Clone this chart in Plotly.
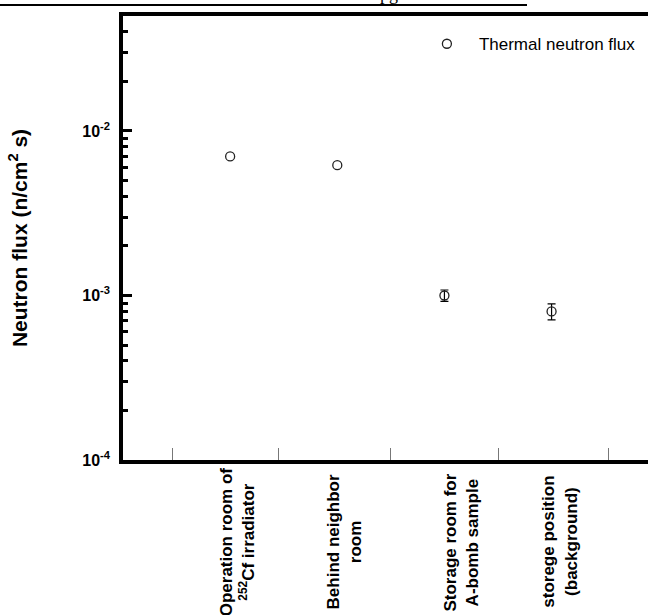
import plotly.graph_objects as go

# ---- data ----
categories = [
    "<b>Operation room of<br><sup>252</sup>Cf irradiator</b>",
    "<b>Behind neighbor<br>room</b>",
    "<b>Storage room for<br>A-bomb sample</b>",
    "<b>storege position<br>(background)</b>",
]
cat_pos = [1, 2, 3, 4]
flux = [7.0e-3, 6.2e-3, 1.0e-3, 8.0e-4]
flux_err = [None, None, 0.08e-3, 0.09e-3]
series_name = "Thermal neutron flux"
ytick_vals = [1e-4, 1e-3, 1e-2]
ytick_text = ["<b>10<sup>-4</sup></b>", "<b>10<sup>-3</sup></b>", "<b>10<sup>-2</sup></b>"]
xsep_ticks = [0.46, 1.45, 2.5, 3.5, 4.53]
label_shift = [7, 7, 17, 8]

FONT = "Liberation Sans, Arial, sans-serif"
marker_style = dict(symbol="circle-open", size=9, color="#222", line=dict(width=1.3, color="#222"))

no_err = [i for i, e in enumerate(flux_err) if e is None]
with_err = [i for i, e in enumerate(flux_err) if e is not None]

fig = go.Figure()
fig.add_trace(go.Scatter(
    x=[cat_pos[i] for i in no_err], y=[flux[i] for i in no_err],
    mode="markers", name=series_name, legendgroup="th",
    marker=marker_style, showlegend=True,
))
fig.add_trace(go.Scatter(
    x=[cat_pos[i] for i in with_err], y=[flux[i] for i in with_err],
    mode="markers", name=series_name, legendgroup="th",
    marker=marker_style, showlegend=False,
    error_y=dict(type="data", array=[flux_err[i] for i in with_err], visible=True,
                 color="black", thickness=1.2, width=4),
))

annotations = []
for pos, lab, sh in zip(cat_pos, categories, label_shift):
    annotations.append(dict(
        x=pos, xref="x", y=-0.185, yref="paper", text=lab, textangle=-90,
        showarrow=False, xanchor="center", yanchor="middle", xshift=sh,
        font=dict(family=FONT, size=17, color="black"), align="center",
    ))
annotations.append(dict(
    x=(389 - 123) / 525, xref="paper", y=(460 + 6) / 444, yref="paper",
    text="pg", showarrow=False, xanchor="center", yanchor="middle",
    font=dict(family="Liberation Serif, serif", size=18, color="black"),
))

fig.update_layout(
    width=648, height=615,
    margin=dict(l=123, r=0, t=16, b=155),
    paper_bgcolor="white", plot_bgcolor="white",
    font=dict(family=FONT, color="black"),
    showlegend=True,
    legend=dict(x=0.556, y=0.977, xanchor="left", yanchor="top",
                bgcolor="rgba(0,0,0,0)", itemwidth=54,
                font=dict(family=FONT, size=17, color="black")),
    annotations=annotations,
    shapes=[dict(type="line", xref="paper", yref="paper",
                 x0=-123 / 525, x1=(527 - 123) / 525,
                 y0=(460 - 5) / 444, y1=(460 - 5) / 444,
                 line=dict(color="black", width=2))],
    xaxis=dict(
        range=[0, 4.9], showgrid=False, zeroline=False,
        showline=True, linecolor="black", linewidth=3.5, mirror=True,
        tickvals=xsep_ticks, ticks="inside", ticklen=12, tickwidth=1,
        tickcolor="#777", showticklabels=False,
    ),
    yaxis=dict(
        type="log", range=[-4, -1.30103], showgrid=False, zeroline=False,
        showline=True, linecolor="black", linewidth=3.5,
        tickvals=ytick_vals, ticktext=ytick_text,
        ticks="inside", ticklen=9, tickwidth=2.5, tickcolor="black",
        ticklabelstandoff=6,
        tickfont=dict(family=FONT, size=16, color="black"),
        minor=dict(ticks="inside", ticklen=5, tickwidth=2.5, tickcolor="black",
                   dtick="D1", showgrid=False),
        title=dict(text="<b>Neutron flux (n/cm<sup>2</sup> s)</b>",
                   font=dict(family=FONT, size=21, color="black"), standoff=50),
        automargin=False,
    ),
)

fig.write_html("out.html", config={"displayModeBar": False},
               post_script="document.body.style.margin='0px';")
